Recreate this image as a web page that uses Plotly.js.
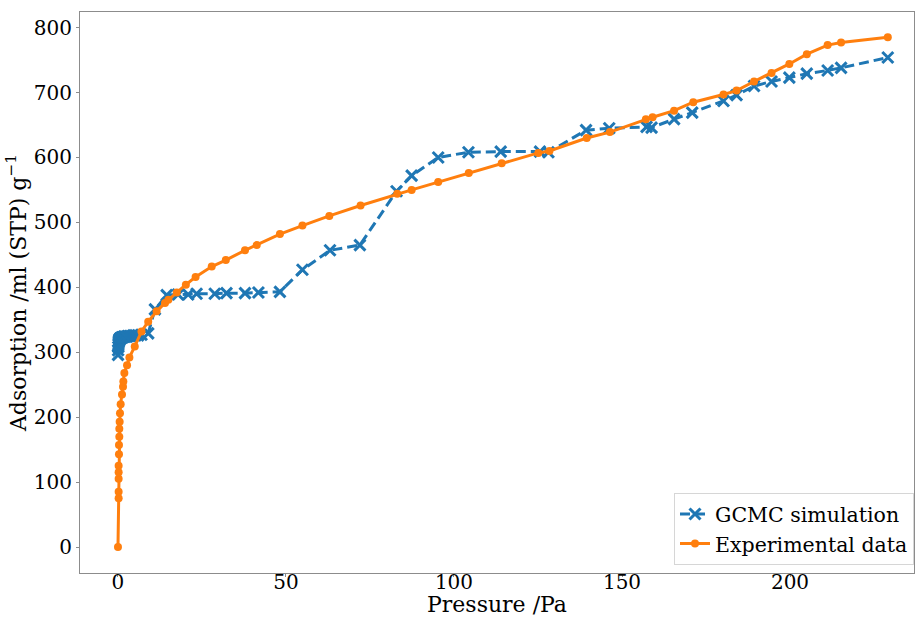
<!DOCTYPE html>
<html>
<head>
<meta charset="utf-8">
<script src="https://cdn.plot.ly/plotly-3.0.1.min.js"></script>
<style>html,body{margin:0;padding:0;background:#fff;}#chart{width:915px;height:617px;}</style>
</head>
<body>
<div id="chart"></div>
<script>
// GCMC simulation
const gcmcPressure = [0.02,0.05,0.1,0.15,0.2,0.3,0.4,0.5,0.6,0.8,1.0,1.2,1.5,1.8,2.2,2.6,3.0,3.5,4.0,4.6,5.2,6.0,7.0,9.0,11.0,14.5,17.9,20.9,23.4,28.8,32.3,37.8,41.8,48.2,54.9,63.1,72.0,82.9,87.4,95.3,104.3,113.9,125.6,128.1,139.3,146.2,157.3,158.8,165.5,170.9,180.2,184.1,189.3,194.5,199.8,205.0,211.2,215.2,229.1];
const gcmcAdsorption = [296,303,308,312,315,317,319,320,321,322,322,323,323,324,324,324,325,325,325,326,326,326,327,329,366,388,389,389,390,390,391,391,392,393,427,457,465,548,572,600,608,609,609,608,642,645,647,646,659,669,687,696,710,717,723,729,734,738,754];
// Experimental data
const expPressure = [0,0.2,0.2,0.2,0.2,0.2,0.3,0.3,0.4,0.4,0.5,0.6,0.8,1.2,1.5,1.6,1.9,2.7,3.4,5.0,7.0,9.0,11.5,14.0,15.0,17.5,20.2,23.1,27.9,32.1,37.8,41.3,48.2,54.9,62.9,72.2,83.1,87.4,95.3,104.4,114.2,125.1,128.4,139.5,146.4,157.1,159.1,165.5,171.2,180.2,184.1,189.3,194.5,199.8,205.0,211.2,215.2,229.1];
const expAdsorption = [0,75,85,105,115,125,143,157,170,182,193,206,220,235,247,255,268,280,292,309,332,347,363,376,381,392,404,416,432,442,457,465,482,495,510,526,544,550,562,576,591,607,610,630,639,659,662,672,685,697,703,717,730,744,759,773,777,785];

const xTickVals = [0,50,100,150,200];
const yTickVals = [0,100,200,300,400,500,600,700,800];
const xRange = [-11.3, 236.9];

const fontFam = "'DejaVu Serif', serif";
const traces = [
  {x: gcmcPressure, y: gcmcAdsorption, xaxis: 'x', yaxis: 'y', name: 'GCMC simulation', mode: 'lines+markers',
   line: {color: '#1f77b4', width: 3, dash: '10px,5px'},
   marker: {symbol: 'x-thin', size: 11, color: '#1f77b4', line: {color: '#1f77b4', width: 3}}},
  {x: expPressure, y: expAdsorption, xaxis: 'x2', yaxis: 'y', name: 'Experimental data', mode: 'lines+markers',
   line: {color: '#ff7f0e', width: 3},
   marker: {symbol: 'circle', size: 8, color: '#ff7f0e'}}
];
const layout = {
  width: 915, height: 617,
  margin: {l: 80, r: 1, t: 12, b: 44},
  paper_bgcolor: '#fff', plot_bgcolor: '#fff',
  font: {family: fontFam, size: 20, color: '#000'},
  showlegend: true,
  legend: {x: 1, y: 0.014, xanchor: 'right', yanchor: 'bottom', bgcolor: 'rgba(255,255,255,0.8)',
           bordercolor: '#d6d6d6', borderwidth: 1, font: {family: fontFam, size: 20.5}, tracegroupgap: 0},
  xaxis: {range: xRange, tickvals: xTickVals, showgrid: false, zeroline: false, anchor: 'y',
          showline: true, mirror: true, linecolor: '#8c8c8c', linewidth: 1,
          ticks: 'outside', ticklen: 3, tickcolor: '#8c8c8c', showticklabels: false},
  xaxis2: {overlaying: 'x', range: xRange, tickvals: xTickVals, anchor: 'free', position: 0.0098,
          showgrid: false, zeroline: false, showline: false, ticks: '', tickfont: {size: 20},
          title: {text: 'Pressure /Pa', font: {size: 22}, standoff: 1}},
  yaxis: {range: [-40, 824], tickvals: yTickVals, showgrid: false, zeroline: false, anchor: 'x',
          showline: true, mirror: true, linecolor: '#8c8c8c', linewidth: 1,
          ticks: 'outside', ticklen: 3, tickcolor: '#8c8c8c', tickfont: {size: 20},
          title: {text: 'Adsorption /ml (STP) g<sup>−1</sup>', font: {size: 22}, standoff: 1}}
};
Plotly.newPlot('chart', traces, layout, {displayModeBar: false, staticPlot: true});
</script>
</body>
</html>
